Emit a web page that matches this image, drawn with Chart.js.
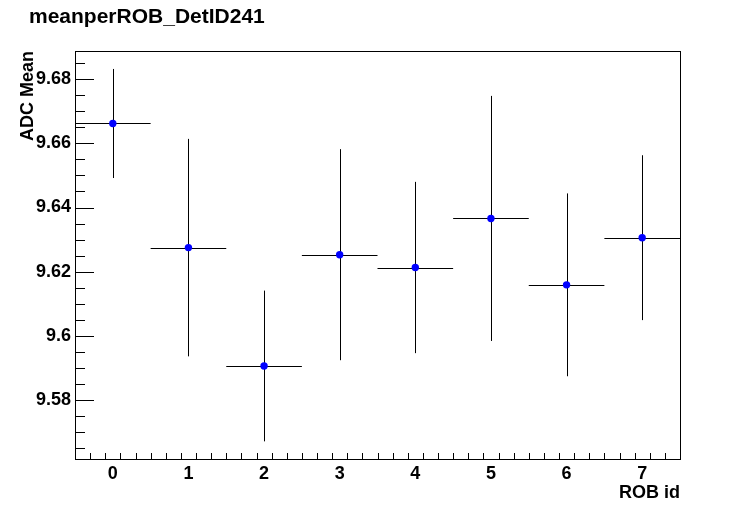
<!DOCTYPE html>
<html>
<head>
<meta charset="utf-8">
<script src="https://cdn.jsdelivr.net/npm/chart.js@4/dist/chart.umd.min.js"></script>
<style>
  html, body { margin: 0; padding: 0; background: #fff; }
  #wrap { width: 756px; height: 511px; }
</style>
</head>
<body>
<div id="wrap"><canvas id="chart" width="756" height="511"></canvas></div>
<script>
// ROB id per bin, mean ADC and its error
const robIds = [0, 1, 2, 3, 4, 5, 6, 7];
const meanValues = [9.6662, 9.6275, 9.5906, 9.6253, 9.6213, 9.6366, 9.6159, 9.6306];
const meanErrors = [0.0170, 0.0339, 0.0235, 0.0329, 0.0267, 0.0382, 0.0285, 0.0257];
const binWidth = 1;

const xTickValues = [0, 1, 2, 3, 4, 5, 6, 7];
const yTickValues = [9.58, 9.6, 9.62, 9.64, 9.66, 9.68];
const xRange = [-0.5, 7.5];
const yRange = [9.5616, 9.6888];
const xMinorStep = 0.2;
const yMinorStep = 0.005;

const FONT = "'Liberation Sans', Arial, Helvetica, sans-serif";
const crisp = (v) => Math.round(v) + 0.5;

// ROOT-like frame, inward ticks and error bars
const rootFrame = {
  id: "rootFrame",
  beforeDatasetsDraw(chart) {
    const { ctx, scales: { x, y } } = chart;
    ctx.save();
    ctx.strokeStyle = "#000";
    ctx.lineWidth = 1;
    robIds.forEach((id, i) => {
      const px = crisp(x.getPixelForValue(id));
      const py = crisp(y.getPixelForValue(meanValues[i]));
      ctx.beginPath();
      ctx.moveTo(x.getPixelForValue(id - binWidth / 2), py);
      ctx.lineTo(x.getPixelForValue(id + binWidth / 2), py);
      ctx.moveTo(px, y.getPixelForValue(meanValues[i] + meanErrors[i]));
      ctx.lineTo(px, y.getPixelForValue(meanValues[i] - meanErrors[i]));
      ctx.stroke();
    });
    ctx.restore();
  },
  afterDraw(chart) {
    const { ctx, chartArea: a, scales: { x, y } } = chart;
    ctx.save();
    ctx.strokeStyle = "#000";
    ctx.lineWidth = 1;
    ctx.strokeRect(crisp(a.left), crisp(a.top), Math.round(a.right - a.left), Math.round(a.bottom - a.top));
    ctx.beginPath();
    // y ticks
    const ny = Math.round((yRange[1] - yRange[0]) / yMinorStep) + 2;
    for (let k = -1; k < ny; k++) {
      const v = Math.ceil(yRange[0] / yMinorStep) * yMinorStep + k * yMinorStep;
      if (v < yRange[0] || v > yRange[1]) continue;
      const major = yTickValues.some((t) => Math.abs(t - v) < 1e-6);
      const py = crisp(y.getPixelForValue(v));
      ctx.moveTo(a.left, py);
      ctx.lineTo(a.left + (major ? 19 : 10), py);
    }
    // x ticks
    for (let v = xRange[0]; v <= xRange[1] + 1e-9; v += xMinorStep) {
      const vv = Math.round(v * 10) / 10;
      if (vv <= xRange[0] || vv >= xRange[1]) continue;
      const major = xTickValues.some((t) => Math.abs(t - vv) < 1e-6);
      const px = crisp(x.getPixelForValue(vv));
      ctx.moveTo(px, a.bottom);
      ctx.lineTo(px, a.bottom - (major ? 13 : 6));
    }
    ctx.stroke();
    ctx.restore();
  },
};

new Chart(document.getElementById("chart"), {
  type: "scatter",
  data: {
    datasets: [
      {
        label: "meanperROB_DetID241",
        data: robIds.map((id, i) => ({ x: id, y: meanValues[i] })),
        pointRadius: 3.7,
        pointHoverRadius: 3.7,
        backgroundColor: "#0000ff",
        borderWidth: 0,
      },
    ],
  },
  options: {
    responsive: false,
    animation: false,
    events: [],
    layout: { padding: { left: 29, right: 76, top: 0, bottom: 0 } },
    plugins: {
      legend: { display: false },
      tooltip: { enabled: false },
      title: {
        display: true,
        text: "meanperROB_DetID241",
        align: "start",
        color: "#000",
        font: { family: FONT, size: 21, weight: "bold", lineHeight: 1.2 },
        padding: { top: 5, bottom: 20.8 },
      },
    },
    scales: {
      x: {
        type: "linear",
        min: xRange[0],
        max: xRange[1],
        grid: { display: false, drawTicks: false },
        border: { display: false },
        afterBuildTicks: (s) => { s.ticks = xTickValues.map((v) => ({ value: v })); },
        afterFit: (s) => { s.height = 52; },
        ticks: {
          color: "#000",
          padding: 4,
          maxRotation: 0,
          autoSkip: false,
          font: { family: FONT, size: 18, weight: "bold" },
          callback: (v) => String(v),
        },
        title: {
          display: true,
          text: "ROB id",
          align: "end",
          color: "#000",
          font: { family: FONT, size: 18, weight: "bold", lineHeight: 1.2 },
          padding: { top: 0, bottom: 7 },
        },
      },
      y: {
        type: "linear",
        min: yRange[0],
        max: yRange[1],
        grid: { display: false, drawTicks: false },
        border: { display: false },
        afterBuildTicks: (s) => { s.ticks = yTickValues.map((v) => ({ value: v })); },
        afterFit: (s) => { s.width = 46; },
        ticks: {
          color: "#000",
          padding: 4,
          autoSkip: false,
          font: { family: FONT, size: 18, weight: "bold" },
          callback: (v) => String(+v.toFixed(2)),
        },
        title: {
          display: true,
          text: "ADC Mean",
          align: "end",
          color: "#000",
          font: { family: FONT, size: 18, weight: "bold", lineHeight: "2px" },
          padding: { top: -2, bottom: 0 },
        },
      },
    },
  },
  plugins: [rootFrame],
});
</script>
</body>
</html>
